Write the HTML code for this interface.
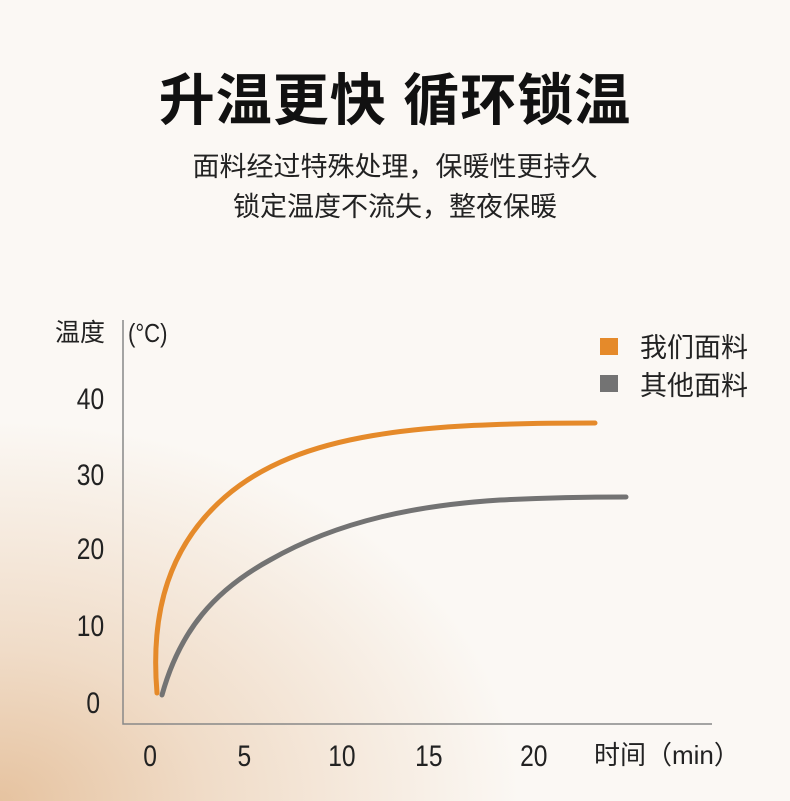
<!DOCTYPE html>
<html><head><meta charset="utf-8"><style>
body{margin:0;width:790px;height:801px;overflow:hidden;position:relative;font-family:"Liberation Sans","Noto Sans CJK SC",sans-serif;
background:radial-gradient(ellipse 520px 380px at 0px 801px,#e6c3a0 0%,#f0dcc8 40%,rgba(250,246,241,0) 100%),#fbf8f4;}
.t{position:absolute;left:0;width:790px;text-align:center;color:#111}
</style></head><body>
<div class="t" style="top:56px;font-size:56px;font-weight:bold;letter-spacing:1px">升温更快 循环锁温</div>
<div class="t" style="top:145px;font-size:27px;color:#222">面料经过特殊处理，保暖性更持久</div>
<div class="t" style="top:185px;font-size:27px;color:#222">锁定温度不流失，整夜保暖</div>
<svg width="790" height="801" style="position:absolute;left:0;top:0">
<g font-family="Liberation Sans,Noto Sans CJK SC,sans-serif" fill="#222">
<text x="55" y="341" font-size="25">温度</text>
<text x="128" y="342" font-size="26" transform="translate(128 0) scale(0.85 1) translate(-128 0)">(°C)</text>
<g font-size="30" transform="scale(0.82 1)">
<text x="127" y="409" text-anchor="end">40</text>
<text x="127" y="485" text-anchor="end">30</text>
<text x="127" y="559" text-anchor="end">20</text>
<text x="127" y="636" text-anchor="end">10</text>
<text x="122" y="713" text-anchor="end">0</text>
<text x="183" y="766" text-anchor="middle">0</text>
<text x="298" y="766" text-anchor="middle">5</text>
<text x="417" y="766" text-anchor="middle">10</text>
<text x="523" y="766" text-anchor="middle">15</text>
<text x="651" y="766" text-anchor="middle">20</text>
</g>
<text x="594" y="764" font-size="26">时间（min）</text>
<text x="640" y="357" font-size="27">我们面料</text>
<text x="640" y="395" font-size="27">其他面料</text>
</g>
<rect x="600" y="338" width="18" height="17" fill="#e58a2a"/>
<rect x="600" y="375" width="18" height="17" fill="#737373"/>
<path d="M123 320V724H712" fill="none" stroke="#888" stroke-width="1.5"/>
<path d="M157 693C150 610 170 545 225 497C300 432 420 423 595 423" fill="none" stroke="#e58a2a" stroke-width="5" stroke-linecap="round"/>
<path d="M162 695C180 630 215 590 270 560C340 520 420 505 500 500C560 497 600 497 626 497" fill="none" stroke="#737373" stroke-width="5" stroke-linecap="round"/>
</svg>
</body></html>
